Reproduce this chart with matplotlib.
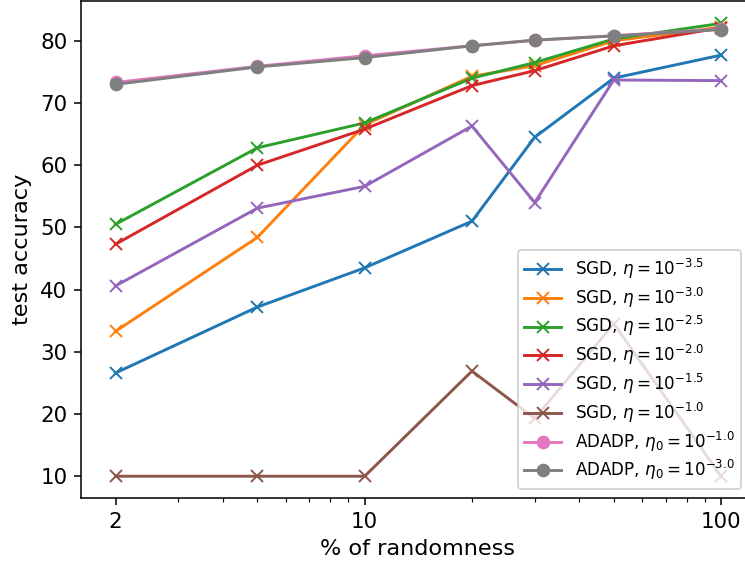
import numpy as np
import matplotlib
matplotlib.use("Agg")
import matplotlib.pyplot as plt
from matplotlib.ticker import NullFormatter

# === Data ===
randomness = [2, 5, 10, 20, 30, 50, 100]

sgd_m35 = [26.6, 37.2, 43.5, 51.0, 64.5, 74.0, 77.7]
sgd_m30 = [33.3, 48.4, 66.5, 74.3, 76.0, 80.0, 82.2]
sgd_m25 = [50.5, 62.8, 66.8, 74.0, 76.5, 80.3, 82.8]
sgd_m20 = [47.3, 60.0, 65.8, 72.8, 75.2, 79.2, 82.1]
sgd_m15 = [40.6, 53.1, 56.6, 66.3, 54.0, 73.7, 73.6]
sgd_m10 = [10.0, 10.0, 10.0, 26.9, 19.3, 34.5, 10.0]
adadp_m10 = [73.3, 75.9, 77.6, 79.2, 80.1, 80.8, 81.9]
adadp_m30 = [73.0, 75.8, 77.3, 79.2, 80.1, 80.8, 81.8]

sgd_series = [
    (sgd_m35, r"SGD, $\eta = 10^{-3.5}$"),
    (sgd_m30, r"SGD, $\eta = 10^{-3.0}$"),
    (sgd_m25, r"SGD, $\eta = 10^{-2.5}$"),
    (sgd_m20, r"SGD, $\eta = 10^{-2.0}$"),
    (sgd_m15, r"SGD, $\eta = 10^{-1.5}$"),
    (sgd_m10, r"SGD, $\eta = 10^{-1.0}$"),
]
adadp_series = [
    (adadp_m10, r"ADADP, $\eta_0 = 10^{-1.0}$"),
    (adadp_m30, r"ADADP, $\eta_0 = 10^{-3.0}$"),
]

# === Plot ===
fig = plt.figure(figsize=(745 / 140, 566 / 140), dpi=140)
ax = fig.add_axes([81 / 745, 1 - 498 / 566, 674 / 745, 497 / 566])

for vals, label in sgd_series:
    ax.plot(randomness, vals, marker="x", lw=1.5, label=label)
for vals, label in adadp_series:
    ax.plot(randomness, vals, marker="o", lw=1.5, label=label)

ax.set_xscale("log")
ax.set_xlim(1.6, 124.5)
ax.set_ylim(6.5, 86.4)
ax.set_xticks([2, 10, 100])
ax.set_xticklabels(["2", "10", "100"])
ax.xaxis.set_minor_formatter(NullFormatter())
ax.set_yticks(np.arange(10, 81, 10))
ax.tick_params(labelsize=11)

ax.set_xlabel("% of randomness", fontsize=11.5)
ax.set_ylabel("test accuracy", fontsize=11.5)

ax.legend(loc="lower right", fontsize=8.6, labelspacing=0.28, handlelength=2.2,
          bbox_to_anchor=(741 / 745, 1 - 489 / 566),
          bbox_transform=fig.transFigure, borderaxespad=0)

fig.savefig("out.png", dpi=140)
